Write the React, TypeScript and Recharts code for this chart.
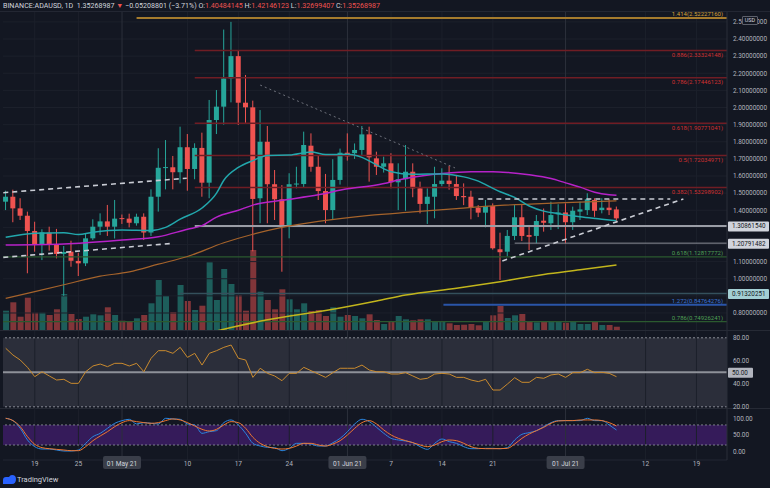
import React from "react";
import {
  ComposedChart,
  Bar,
  Line,
  XAxis,
  YAxis,
  ReferenceLine,
  ReferenceArea,
  Cell,
} from "recharts";

// ─────────────────────────────────────────
// DATA  (BINANCE:ADAUSD, 1D — 15 Apr .. 8 Jul 2021, index 0 = 15 Apr)
// ─────────────────────────────────────────

const open = [1.45, 1.479, 1.411, 1.368, 1.279, 1.197, 1.269, 1.203, 1.145, 1.158, 1.104, 1.09, 1.236, 1.304, 1.335, 1.304, 1.354, 1.351, 1.324, 1.362, 1.27, 1.479, 1.648, 1.651, 1.622, 1.768, 1.641, 1.764, 1.561, 1.927, 2.005, 2.17, 2.3, 2.028, 2.001, 1.47, 1.8, 1.552, 1.464, 1.314, 1.552, 1.553, 1.777, 1.654, 1.512, 1.401, 1.577, 1.736, 1.733, 1.752, 1.843, 1.703, 1.654, 1.674, 1.563, 1.581, 1.625, 1.528, 1.437, 1.479, 1.553, 1.573, 1.553, 1.483, 1.479, 1.415, 1.386, 1.425, 1.172, 1.158, 1.25, 1.359, 1.255, 1.25, 1.339, 1.324, 1.376, 1.387, 1.33, 1.392, 1.401, 1.46, 1.401, 1.415, 1.4048];
const high = [1.514, 1.52, 1.47, 1.392, 1.333, 1.289, 1.304, 1.291, 1.191, 1.222, 1.152, 1.265, 1.347, 1.382, 1.431, 1.46, 1.375, 1.38, 1.38, 1.382, 1.522, 1.762, 1.81, 1.717, 1.888, 1.845, 1.791, 1.853, 2.044, 2.102, 2.455, 2.5, 2.332, 2.19, 2.04, 1.985, 1.892, 1.635, 1.547, 1.616, 1.654, 1.859, 1.849, 1.723, 1.612, 1.698, 1.76, 1.849, 1.79, 1.892, 1.888, 1.742, 1.713, 1.733, 1.674, 1.781, 1.674, 1.567, 1.528, 1.654, 1.645, 1.66, 1.606, 1.557, 1.514, 1.43, 1.46, 1.44, 1.269, 1.285, 1.431, 1.431, 1.314, 1.372, 1.41, 1.45, 1.435, 1.44, 1.421, 1.45, 1.499, 1.47, 1.47, 1.464, 1.4215];
const low = [1.401, 1.33, 1.343, 1.032, 1.158, 1.109, 1.164, 1.119, 0.9, 1.07, 1.016, 1.074, 1.226, 1.255, 1.25, 1.235, 1.32, 1.3, 1.31, 1.226, 1.25, 1.392, 1.522, 1.522, 1.557, 1.514, 1.581, 1.479, 1.47, 1.845, 1.9, 2.03, 1.898, 1.91, 1.16, 1.324, 1.324, 1.343, 1.041, 1.236, 1.528, 1.534, 1.625, 1.46, 1.324, 1.343, 1.55, 1.69, 1.7, 1.723, 1.567, 1.606, 1.62, 1.528, 1.401, 1.397, 1.476, 1.382, 1.32, 1.353, 1.54, 1.52, 1.46, 1.43, 1.347, 1.36, 1.3, 1.17, 0.993, 1.13, 1.226, 1.22, 1.168, 1.207, 1.275, 1.285, 1.29, 1.207, 1.285, 1.343, 1.372, 1.362, 1.382, 1.372, 1.327];
const close = [1.479, 1.411, 1.368, 1.279, 1.197, 1.271, 1.203, 1.145, 1.156, 1.105, 1.09, 1.236, 1.304, 1.335, 1.304, 1.351, 1.351, 1.327, 1.362, 1.27, 1.479, 1.648, 1.652, 1.622, 1.768, 1.641, 1.764, 1.561, 1.927, 2.005, 2.17, 2.3, 2.028, 2.001, 1.466, 1.8, 1.552, 1.464, 1.314, 1.552, 1.556, 1.781, 1.654, 1.512, 1.401, 1.577, 1.736, 1.715, 1.752, 1.843, 1.709, 1.654, 1.674, 1.563, 1.581, 1.625, 1.528, 1.437, 1.479, 1.553, 1.573, 1.553, 1.483, 1.476, 1.415, 1.386, 1.425, 1.178, 1.155, 1.25, 1.359, 1.25, 1.245, 1.337, 1.327, 1.372, 1.387, 1.33, 1.397, 1.405, 1.464, 1.397, 1.415, 1.401, 1.3527];

// volume, millions of ADA
const volume = [965, 1385, 665, 1615, 865, 865, 750, 1035, 1800, 800, 550, 665, 785, 735, 1135, 750, 465, 415, 585, 750, 1335, 2500, 1700, 900, 2250, 1450, 1000, 1215, 3385, 1500, 3050, 2300, 1750, 965, 4000, 1915, 1500, 1035, 2035, 1535, 1035, 1335, 950, 1000, 700, 1135, 665, 750, 700, 585, 785, 500, 300, 435, 700, 535, 485, 535, 535, 435, 435, 335, 250, 265, 300, 235, 435, 735, 1200, 600, 735, 800, 415, 385, 415, 435, 435, 365, 435, 300, 300, 400, 250, 250, 165];

const rsi = [70.9, 65.0, 60.7, 54.3, 46.2, 50.5, 46.8, 43.3, 43.9, 40.4, 40.4, 50.5, 55.5, 57.2, 54.9, 57.8, 57.8, 55.5, 57.8, 50.5, 62.2, 68.8, 68.8, 66.5, 71.7, 63.0, 66.5, 56.3, 66.5, 68.8, 71.7, 73.7, 62.2, 60.7, 45.6, 53.5, 49.1, 46.8, 42.7, 49.1, 49.1, 54.3, 51.4, 48.5, 45.6, 49.7, 53.5, 53.5, 53.5, 56.3, 52.0, 50.5, 50.5, 48.5, 48.5, 49.7, 46.8, 43.9, 44.8, 48.5, 49.1, 48.5, 45.6, 45.6, 43.3, 41.9, 43.9, 34.6, 34.6, 39.8, 45.3, 41.3, 41.3, 45.6, 44.8, 47.7, 48.5, 45.6, 49.7, 49.7, 52.6, 49.7, 50.0, 49.1, 46.2];

const stochK = [100, 93, 70, 35, 15, 8, 8, 5, 2, 2, 5, 25, 45, 55, 70, 85, 93, 97, 83, 87, 85, 83, 100, 98, 97, 83, 80, 55, 60, 63, 87, 95, 80, 55, 25, 17, 13, 12, 3, 10, 25, 25, 23, 17, 17, 27, 40, 60, 83, 97, 90, 73, 55, 40, 35, 32, 27, 15, 7, 25, 38, 30, 25, 15, 9, 9, 10, 10, 9, 12, 35, 52, 57, 63, 75, 87, 93, 93, 93, 93, 100, 93, 93, 80, 65];
const stochD = [100, 93, 75, 45, 22, 12, 9, 7, 5, 3, 3, 15, 33, 47, 60, 75, 87, 93, 90, 87, 85, 87, 93, 98, 95, 87, 77, 67, 62, 67, 80, 90, 87, 70, 43, 25, 15, 10, 8, 10, 17, 25, 25, 20, 17, 23, 33, 50, 70, 87, 93, 83, 65, 50, 40, 33, 27, 20, 15, 20, 30, 35, 33, 25, 15, 10, 9, 9, 9, 10, 23, 40, 53, 63, 73, 85, 92, 93, 93, 95, 95, 95, 93, 87, 77];

// moving averages at selected candles: [index, price]
const ma20Pts: [number, number][] = [[0, 1.242], [4, 1.265], [8, 1.269], [10, 1.258], [12, 1.272], [16, 1.285], [20, 1.282], [22, 1.3], [24, 1.348], [27, 1.413], [29, 1.5], [30, 1.575], [32, 1.65], [34, 1.69], [36, 1.72], [39, 1.722], [42, 1.74], [44, 1.725], [47, 1.727], [49, 1.709], [51, 1.665], [53, 1.625], [56, 1.61], [60, 1.612], [63, 1.595], [65, 1.57], [66, 1.55], [68, 1.508], [70, 1.475], [72, 1.425], [74, 1.395], [76, 1.38], [79, 1.362], [82, 1.348], [84, 1.338]];
const ma50Pts: [number, number][] = [[0, 1.197], [8, 1.203], [16, 1.226], [21, 1.245], [25, 1.289], [27, 1.31], [29, 1.36], [32, 1.4], [34, 1.43], [38, 1.458], [43, 1.49], [47, 1.525], [51, 1.547], [55, 1.585], [60, 1.614], [64, 1.625], [67, 1.625], [69, 1.621], [72, 1.607], [75, 1.585], [77, 1.56], [79, 1.535], [81, 1.505], [83, 1.49], [84, 1.487]];
const ma100Pts: [number, number][] = [[0, 0.885], [4, 0.925], [8, 0.965], [13, 1.015], [17, 1.04], [21, 1.085], [25, 1.13], [30, 1.21], [34, 1.26], [38, 1.3], [43, 1.335], [50, 1.37], [56, 1.39], [62, 1.41], [68, 1.428], [76, 1.443], [84, 1.455]];
const ma200Pts: [number, number][] = [[29, 0.695], [31, 0.715], [36, 0.76], [44, 0.814], [51, 0.87], [55, 0.905], [62, 0.945], [68, 0.983], [74, 1.025], [79, 1.052], [84, 1.08]];

// fibonacci levels: ratio, price, first candle index the level starts at
const fibRatios = ["1.414", "0.886", "0.786", "0.618", "0.5", "0.382", "0.618", "1.272", "0.786"];
const fibPrices = [2.5222716, 2.33324148, 2.17446123, 1.90771041, 1.72034971, 1.53298902, 1.12817772, 0.84764276, 0.74926241];
const fibStarts = [18, 26, 26, 26, 26, 26, -0.37, 60.2, -0.37];
const fibKinds = ["orange", "red", "red", "red", "red", "red", "green", "blue", "green"];

// horizontal support / resistance levels: price, start index
const levelPrices = [1.3086154, 1.20791482, 0.91320251];
const levelStarts = [26, 70, 24];

// trendlines: [startIndex, startPrice, endIndex, endPrice]
const dashedLines: [number, number, number, number][] = [
  [-0.33, 1.5025, 24.9, 1.587],
  [-0.33, 1.125, 23.05, 1.207],
  [65, 1.466, 91.4, 1.466],
  [68.3, 1.104, 93.2, 1.466],
];
const dottedLine: [number, number, number, number] = [35, 2.131, 61.8, 1.647];

const priceTicks = [0.8, 1.0, 1.1, 1.4, 1.5, 1.6, 1.7, 1.8, 1.9, 2.0, 2.1, 2.2, 2.3, 2.4, 2.5];
const priceGrid = [0.8, 0.9, 1.0, 1.1, 1.2, 1.3, 1.4, 1.5, 1.6, 1.7, 1.8, 1.9, 2.0, 2.1, 2.2, 2.3, 2.4, 2.5];
const timeTicks = [4, 10, 16, 25, 32, 39, 47, 53, 60, 67, 77, 88, 95];
const timeLabels = ["19", "25", "01 May 21", "10", "17", "24", "01 Jun 21", "7", "14", "21", "01 Jul 21", "12", "19"];
const monthTicks = [16, 47, 77];

const header = {
  symbol: "BINANCE:ADAUSD, 1D",
  last: "1.35268987",
  change: "−0.05208801 (−3.71%)",
  o: "1.40484145",
  h: "1.42146123",
  l: "1.32699407",
  c: "1.35268987",
};

// ─────────────────────────────────────────
// STYLE
// ─────────────────────────────────────────

const BG = "#131722";
const UP = "#26a69a";
const DOWN = "#ef5350";
const TEXT = "#b2b5be";
const GRID = "#1c202b";
const GRID_MONTH = "#2c303b";
const FONT = "Roboto, 'Noto Sans', sans-serif";
const X_DOMAIN: [number, number] = [-0.37, 99.2];
const FIB_COLORS: Record<string, { line: string; text: string; w: number; below: boolean }> = {
  orange: { line: "#a57b2d", text: "#d4a23a", w: 2, below: false },
  red: { line: "#701d24", text: "#cf3030", w: 1.5, below: true },
  green: { line: "#2b5a2f", text: "#4f9f54", w: 1.2, below: false },
  blue: { line: "#2a55a8", text: "#3a74d6", w: 2, below: false },
};
const LEVEL_STYLE = [
  { line: "#9a9da6", w: 2, box: "#d1d4dc" },
  { line: "#8b8e97", w: 1, box: "#d1d4dc" },
  { line: "#34505c", w: 1.5, box: "#a3cfd4" },
];

// ─────────────────────────────────────────
// HELPERS
// ─────────────────────────────────────────

const pick = (pts: [number, number][], i: number) => {
  const hit = pts.find((p) => p[0] === i);
  return hit ? hit[1] : undefined;
};

const rows = open.map((o, i) => ({
  i,
  o,
  h: high[i],
  l: low[i],
  c: close[i],
  hl: [low[i], high[i]],
  vol: volume[i],
  rsi: rsi[i],
  k: stochK[i],
  d: stochD[i],
  ma20: pick(ma20Pts, i),
  ma50: pick(ma50Pts, i),
  ma100: pick(ma100Pts, i),
  ma200: pick(ma200Pts, i),
}));

const Candle = (props: any) => {
  const { x, y, width, height, payload } = props;
  if (!payload) return null;
  const { o, h, l, c } = payload;
  const color = c >= o ? UP : DOWN;
  const top0 = height < 0 ? y + height : y;
  const hgt = Math.abs(height);
  const ppu = h - l > 0 ? hgt / (h - l) : 0;
  const bTop = top0 + (h - Math.max(o, c)) * ppu;
  const bBot = top0 + (h - Math.min(o, c)) * ppu;
  const cx = x + width / 2;
  return (
    <g>
      <line x1={cx} x2={cx} y1={top0} y2={top0 + hgt} stroke={color} strokeWidth={1} />
      <rect x={x} y={bTop} width={width} height={Math.max(1, bBot - bTop)} fill={color} />
    </g>
  );
};

const fibLabel = (text: string, color: string, below: boolean) => (props: any) => {
  const vb = props.viewBox || {};
  return (
    <text
      x={(vb.x ?? 0) + (vb.width ?? 0) - 4}
      y={(vb.y ?? 0) + (below ? 6.8 : -1.6)}
      textAnchor="end"
      fill={color}
      fontSize={6}
      fontFamily={FONT}
    >
      {text}
    </text>
  );
};

const axisBox = (text: string, fill: string, w = 41) => (props: any) => {
  const vb = props.viewBox || {};
  const x = (vb.x ?? 0) + (vb.width ?? 0) + 1;
  const y = vb.y ?? 0;
  return (
    <g>
      <rect x={x} y={y - 4.5} width={w} height={10} fill={fill} rx={1} />
      <text x={x + 4} y={y + 2.6} fill="#131722" fontSize={6.3} fontFamily={FONT}>
        {text}
      </text>
    </g>
  );
};

const TimeTick = (props: any) => {
  const { x, y, payload } = props;
  const k = timeTicks.indexOf(payload.value);
  const label = timeLabels[k] ?? "";
  const boxed = label.length > 2;
  return (
    <g>
      {boxed && <rect x={x - 19} y={y - 4} width={38} height={13} rx={2} fill="#3a3e49" />}
      <text x={x} y={y + 5.6} textAnchor="middle" fill={boxed ? "#d1d4dc" : TEXT} fontSize={6.6} fontFamily={FONT}>
        {label}
      </text>
    </g>
  );
};

const timeGrid = () =>
  timeTicks.map((t) => (
    <ReferenceLine key={`tg${t}`} x={t} stroke={monthTicks.includes(t) ? GRID_MONTH : GRID} strokeWidth={1} />
  ));

const axisTick = { fill: TEXT, fontSize: 6.4, fontFamily: FONT };

// ─────────────────────────────────────────
// COMPONENT
// ─────────────────────────────────────────

const App = () => {
  return (
    <div
      style={{
        position: "absolute",
        left: 0,
        top: 0,
        width: 770,
        height: 488,
        background: BG,
        overflow: "hidden",
        fontFamily: FONT,
      }}
    >
      {/* Header */}
      <div
        style={{
          position: "absolute",
          left: 3,
          top: 0,
          height: 11,
          lineHeight: "11px",
          fontSize: 7.1,
          color: "#d1d4dc",
          whiteSpace: "nowrap",
        }}
      >
        {header.symbol}&nbsp; {header.last} <span style={{ color: DOWN }}>▼</span> {header.change} O:
        <span style={{ color: DOWN }}>{header.o}</span> H:<span style={{ color: DOWN }}>{header.h}</span> L:
        <span style={{ color: DOWN }}>{header.l}</span> C:<span style={{ color: DOWN }}>{header.c}</span>
      </div>
      <div style={{ position: "absolute", left: 0, top: 11, width: 770, height: 1, background: "#232733" }} />

      {/* Grid + volume layer */}
      <div style={{ position: "absolute", left: 0, top: 0 }}>
        <ComposedChart width={770} height={330} data={rows} margin={{ top: 12, right: 43, bottom: 0, left: 3 }}>
          <XAxis dataKey="i" type="number" domain={X_DOMAIN} allowDataOverflow hide />
          <YAxis yAxisId="v" domain={[0, 15900]} allowDataOverflow hide />
          <YAxis yAxisId="p" domain={[0.7007, 2.5577]} allowDataOverflow hide />
          {priceGrid.map((p) => (
            <ReferenceLine key={`pg${p}`} yAxisId="p" y={p} stroke={GRID} strokeWidth={1} />
          ))}
          {timeTicks.map((t) => (
            <ReferenceLine key={`tg${t}`} yAxisId="p" x={t} stroke={monthTicks.includes(t) ? GRID_MONTH : GRID} />
          ))}
          <Bar yAxisId="v" dataKey="vol" barSize={6} isAnimationActive={false}>
            {rows.map((r) => (
              <Cell key={`v${r.i}`} fill={r.c >= r.o ? "#1d5e5b" : "#813539"} />
            ))}
          </Bar>
        </ComposedChart>
      </div>

      {/* Price layer */}
      <div style={{ position: "absolute", left: 0, top: 0 }}>
        <ComposedChart width={770} height={330} data={rows} margin={{ top: 12, right: 0, bottom: 0, left: 3 }}>
          <XAxis dataKey="i" type="number" domain={X_DOMAIN} allowDataOverflow hide />
          <YAxis
            orientation="right"
            type="number"
            width={43}
            domain={[0.7007, 2.5577]}
            allowDataOverflow
            ticks={priceTicks}
            interval={0}
            tickFormatter={(v: number) => v.toFixed(8)}
            tick={axisTick}
            tickLine={false}
            tickSize={0}
            tickMargin={6}
            axisLine={{ stroke: "#2a2e39" }}
          />

          {fibPrices.map((p, k) => {
            const s = FIB_COLORS[fibKinds[k]];
            return (
              <ReferenceLine
                key={`fib${k}`}
                segment={[
                  { x: fibStarts[k], y: p },
                  { x: X_DOMAIN[1], y: p },
                ]}
                stroke={s.line}
                strokeWidth={s.w}
                ifOverflow="hidden"
                label={fibLabel(`${fibRatios[k]}(${p.toFixed(8)})`, s.text, s.below)}
              />
            );
          })}

          {levelPrices.map((p, k) => (
            <ReferenceLine
              key={`lvl${k}`}
              segment={[
                { x: levelStarts[k], y: p },
                { x: X_DOMAIN[1], y: p },
              ]}
              stroke={LEVEL_STYLE[k].line}
              strokeWidth={LEVEL_STYLE[k].w}
              ifOverflow="hidden"
              label={axisBox(p.toFixed(8), LEVEL_STYLE[k].box)}
            />
          ))}

          <Line dataKey="ma200" stroke="#c2b51c" strokeWidth={1.5} dot={false} connectNulls type="monotone" isAnimationActive={false} />
          <Line dataKey="ma100" stroke="#a5632b" strokeWidth={1.2} dot={false} connectNulls type="monotone" isAnimationActive={false} />
          <Line dataKey="ma50" stroke="#b622c8" strokeWidth={1.5} dot={false} connectNulls type="monotone" isAnimationActive={false} />
          <Line dataKey="ma20" stroke="#22a7ac" strokeWidth={1.5} dot={false} connectNulls type="monotone" isAnimationActive={false} />

          <Bar dataKey="hl" barSize={5} shape={<Candle />} isAnimationActive={false} />

          {dashedLines.map((s, k) => (
            <ReferenceLine
              key={`dl${k}`}
              segment={[
                { x: s[0], y: s[1] },
                { x: s[2], y: s[3] },
              ]}
              stroke="#c9ccd4"
              strokeWidth={1.6}
              strokeDasharray="5 4"
              ifOverflow="hidden"
            />
          ))}
          <ReferenceLine
            segment={[
              { x: dottedLine[0], y: dottedLine[1] },
              { x: dottedLine[2], y: dottedLine[3] },
            ]}
            stroke="#6d707a"
            strokeWidth={1}
            strokeDasharray="2 3"
            ifOverflow="hidden"
          />
        </ComposedChart>
      </div>

      {/* USD badge, drawn over the top price label as in the terminal */}
      <div
        style={{
          position: "absolute",
          left: 742,
          top: 16,
          width: 14,
          height: 7,
          lineHeight: "7px",
          border: "1px solid #5d606b",
          borderRadius: 1,
          background: BG,
          color: "#d1d4dc",
          fontSize: 5.5,
          textAlign: "center",
        }}
      >
        USD
      </div>

      {/* Pane separators */}
      <div style={{ position: "absolute", left: 0, top: 330, width: 770, height: 1, background: "#262a35" }} />
      <div style={{ position: "absolute", left: 0, top: 408, width: 770, height: 1, background: "#262a35" }} />

      {/* RSI pane (svg taller than the pane so the 20.00 label is not clipped) */}
      <div style={{ position: "absolute", left: 0, top: 331 }}>
        <ComposedChart width={770} height={84} data={rows} margin={{ top: 0, right: 0, bottom: 6, left: 3 }}>
          <XAxis dataKey="i" type="number" domain={X_DOMAIN} allowDataOverflow hide />
          <YAxis
            orientation="right"
            type="number"
            width={43}
            domain={[18.1, 85.9]}
            allowDataOverflow
            ticks={[20, 40, 60, 80]}
            interval={0}
            tickFormatter={(v: number) => v.toFixed(2)}
            tick={axisTick}
            tickLine={false}
            tickSize={0}
            tickMargin={6}
            axisLine={{ stroke: "#2a2e39" }}
          />
          <ReferenceArea y1={20} y2={80} fill="#2b2e3a" fillOpacity={1} stroke="none" ifOverflow="hidden" />
          {timeGrid()}
          <ReferenceLine y={80} stroke="#8a8d96" strokeDasharray="2 2" />
          <ReferenceLine y={20} stroke="#8a8d96" strokeDasharray="2 2" />
          <ReferenceLine y={50} stroke="#8e9199" strokeWidth={2} label={axisBox("50.00", "#b2b5be", 25)} />
          <Line dataKey="rsi" stroke="#c98a2e" strokeWidth={1} dot={false} type="linear" isAnimationActive={false} />
        </ComposedChart>
      </div>

      {/* Stoch RSI pane + time axis */}
      <div style={{ position: "absolute", left: 0, top: 409 }}>
        <ComposedChart width={770} height={66} data={rows} margin={{ top: 0, right: 0, bottom: 0, left: 3 }}>
          <XAxis
            dataKey="i"
            type="number"
            domain={X_DOMAIN}
            allowDataOverflow
            ticks={timeTicks}
            interval={0}
            height={15}
            tick={<TimeTick />}
            tickLine={false}
            tickSize={0}
            tickMargin={0}
            axisLine={{ stroke: "#232733" }}
          />
          <YAxis
            orientation="right"
            type="number"
            width={43}
            domain={[-24.9, 127.8]}
            allowDataOverflow
            ticks={[0, 50, 100]}
            interval={0}
            tickFormatter={(v: number) => v.toFixed(2)}
            tick={axisTick}
            tickLine={false}
            tickSize={0}
            tickMargin={6}
            axisLine={{ stroke: "#2a2e39" }}
          />
          <ReferenceArea y1={20} y2={80} fill="#351b5a" fillOpacity={1} stroke="none" ifOverflow="hidden" />
          {timeGrid()}
          <ReferenceLine y={80} stroke="#7d7f8a" strokeDasharray="2 2" />
          <ReferenceLine y={20} stroke="#7d7f8a" strokeDasharray="2 2" />
          <Line dataKey="k" stroke="#2a86e0" strokeWidth={1} dot={false} type="monotone" isAnimationActive={false} />
          <Line dataKey="d" stroke="#ee7630" strokeWidth={1} dot={false} type="monotone" isAnimationActive={false} />
        </ComposedChart>
      </div>

      {/* Footer logo */}
      <svg style={{ position: "absolute", left: 3, top: 475 }} width={13} height={10}>
        <path d="M0 9 L0 5 Q0 2 3 2 L6 2 Q7 0 9 0 Q13 0 13 4 Q13 9 9 9 Z" fill="#2962ff" />
      </svg>
      <div
        style={{
          position: "absolute",
          left: 17,
          top: 475,
          fontSize: 7.5,
          lineHeight: "10px",
          color: "#d1d4dc",
        }}
      >
        TradingView
      </div>
    </div>
  );
};

export default App;
